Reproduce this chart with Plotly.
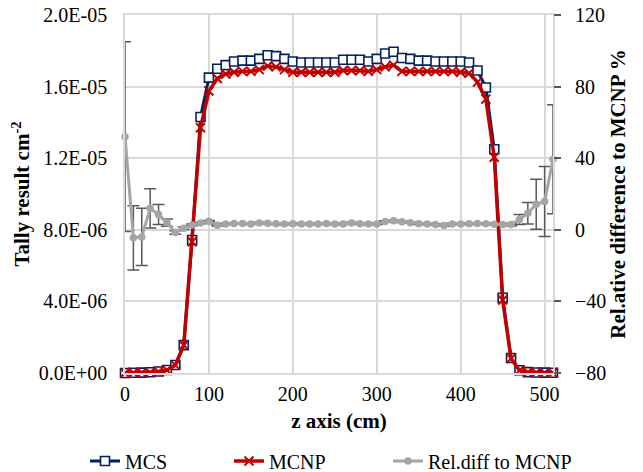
import plotly.graph_objects as go

z_cm = [0, 10, 20, 30, 40, 50, 60, 70, 80, 90, 100, 110, 120, 130, 140, 150, 160, 170, 180, 190,
        200, 210, 220, 230, 240, 250, 260, 270, 280, 290, 300, 310, 320, 330, 340, 350, 360, 370,
        380, 390, 400, 410, 420, 430, 440, 450, 460, 470, 480, 490, 500, 510]

mcs_e6 = [0.0, 0.01, 0.02, 0.04, 0.08, 0.17, 0.45, 1.56, 7.43, 14.3, 16.5, 17.0, 17.2, 17.4, 17.45,
          17.45, 17.55, 17.75, 17.7, 17.55, 17.4, 17.35, 17.35, 17.35, 17.35, 17.35, 17.5, 17.5,
          17.5, 17.4, 17.55, 17.85, 17.95, 17.6, 17.55, 17.45, 17.45, 17.4, 17.4, 17.4, 17.4,
          17.35, 16.9, 15.95, 12.5, 4.2, 0.84, 0.15, 0.05, 0.03, 0.02, 0.01]

mcnp_e6 = [0.0, 0.01, 0.02, 0.035, 0.07, 0.16, 0.44, 1.55, 7.33, 13.7, 15.75, 16.45, 16.7, 16.8,
           16.85, 16.85, 16.95, 17.15, 17.1, 16.95, 16.8, 16.8, 16.8, 16.8, 16.8, 16.8, 16.9,
           16.9, 16.9, 16.85, 16.95, 17.1, 17.2, 16.85, 16.85, 16.85, 16.85, 16.85, 16.85, 16.85,
           16.8, 16.75, 16.25, 15.3, 12.05, 4.08, 0.81, 0.14, 0.046, 0.026, 0.017, 0.007]

rel_diff = [52, -4.5, -4.0, 12, 8.5, 4.0, -1.5, 0.8, 2.7, 3.8, 4.8, 2.5, 3.2, 3.5, 3.5, 3.3, 3.8,
            3.6, 3.4, 3.2, 3.4, 3.3, 3.2, 3.3, 3.5, 3.2, 3.3, 3.8, 3.4, 3.2, 3.3, 4.6, 5.0, 4.5,
            4.0, 3.4, 3.3, 3.0, 2.4, 3.2, 3.3, 3.4, 3.5, 3.4, 3.1, 3.0, 2.9, 5.8, 9.3, 14.3, 15.8,
            39.4]

rel_err = [53, 18, 16, 11, 5.6, 2.0, 1.0, 0.7, 0.5, 0.4, 0.4, 0.4, 0.4, 0.4, 0.4, 0.4, 0.4, 0.4,
           0.4, 0.4, 0.4, 0.4, 0.4, 0.4, 0.4, 0.4, 0.4, 0.4, 0.4, 0.4, 0.4, 0.4, 0.4, 0.4, 0.4,
           0.4, 0.4, 0.4, 0.4, 0.4, 0.4, 0.4, 0.4, 0.4, 0.4, 0.5, 0.8, 2.8, 6.0, 14.0, 19.5, 30.5]

left_tickvals = [0, 4e-6, 8e-6, 1.2e-5, 1.6e-5, 2.0e-5]
left_ticktext = ["0.0E+00", "4.0E-06", "8.0E-06", "1.2E-05", "1.6E-05", "2.0E-05"]
right_tickvals = [-80, -40, 0, 40, 80, 120]
x_tickvals = [0, 100, 200, 300, 400, 500]

mcs = [v * 1e-6 for v in mcs_e6]
mcnp = [v * 1e-6 for v in mcnp_e6]

FONT = "Liberation Serif"
GRID = "#D9D9D9"
W, H = 643, 472
TICK_FS = 20
TITLE_FS = 21

fig = go.Figure()

fig.add_trace(go.Scatter(
    x=z_cm, y=rel_diff, name="Rel.diff to MCNP", yaxis="y2", mode="lines+markers",
    line=dict(color="#A5A5A5", width=3),
    marker=dict(symbol="circle", size=7.5, color="#A5A5A5"),
    error_y=dict(type="data", array=rel_err, visible=True, color="#595959", thickness=1.5, width=6),
    legend="legend3", cliponaxis=False,
))

fig.add_trace(go.Scatter(
    x=z_cm, y=mcs, name="MCS", mode="lines+markers",
    line=dict(color="#002060", width=3),
    marker=dict(symbol="square", size=9, color="white", line=dict(color="#002060", width=1.6)),
    legend="legend", cliponaxis=False,
))

fig.add_trace(go.Scatter(
    x=z_cm, y=mcnp, name="MCNP", mode="lines+markers",
    line=dict(color="#C00000", width=3.5),
    marker=dict(symbol="x-thin", size=9, color="#C00000", line=dict(color="#C00000", width=2)),
    legend="legend2", cliponaxis=False,
))


def leg(text_left_px):
    return dict(orientation="h", xref="container", yref="container",
                x=(text_left_px - 43) / W, xanchor="left",
                y=1 - 461 / H, yanchor="middle", bgcolor="rgba(0,0,0,0)",
                font=dict(family=FONT, size=TICK_FS, color="black"))


fig.update_layout(
    width=W, height=H,
    margin=dict(l=125, r=90, t=15, b=99),
    paper_bgcolor="white", plot_bgcolor="white",
    font=dict(family=FONT, size=TICK_FS, color="black"),
    showlegend=True,
    legend=leg(128), legend2=leg(272), legend3=leg(431),
    xaxis=dict(
        range=[0, 510], tickvals=x_tickvals, showgrid=True, gridcolor=GRID, gridwidth=1.5,
        zeroline=False, showline=True, linecolor=GRID, linewidth=1.5, mirror=True,
        ticks="", ticklabelstandoff=2, automargin=False,
        title=dict(text="<b>z axis (cm)</b>", standoff=10, font=dict(family=FONT, size=TITLE_FS)),
        tickfont=dict(family=FONT, size=TICK_FS),
    ),
    yaxis=dict(
        range=[0, 2.0e-5], tickvals=left_tickvals, ticktext=left_ticktext, showgrid=True,
        gridcolor=GRID, gridwidth=1.5, zeroline=False, showline=True, linecolor=GRID,
        linewidth=1.5, mirror=True, ticks="", ticklabelstandoff=12, automargin=False,
        title=dict(text="<b>Tally result cm<sup>-2</sup></b>", standoff=3,
                   font=dict(family=FONT, size=TITLE_FS)),
        tickfont=dict(family=FONT, size=TICK_FS),
    ),
    yaxis2=dict(
        range=[-80, 120], tickvals=right_tickvals, overlaying="y", side="right",
        showgrid=False, zeroline=False, showline=False, ticks="outside", ticklen=7,
        tickcolor="#595959", tickwidth=1.5, ticklabelstandoff=10, automargin=False,
        title=dict(text="<b>Rel.ative difference to MCNP %</b>", standoff=4,
                   font=dict(family=FONT, size=TITLE_FS)),
        tickfont=dict(family=FONT, size=TICK_FS),
    ),
)

fig.write_html("out.html", config={"displayModeBar": False},
               post_script="document.body.style.margin='0px';document.body.style.overflow='hidden';")
